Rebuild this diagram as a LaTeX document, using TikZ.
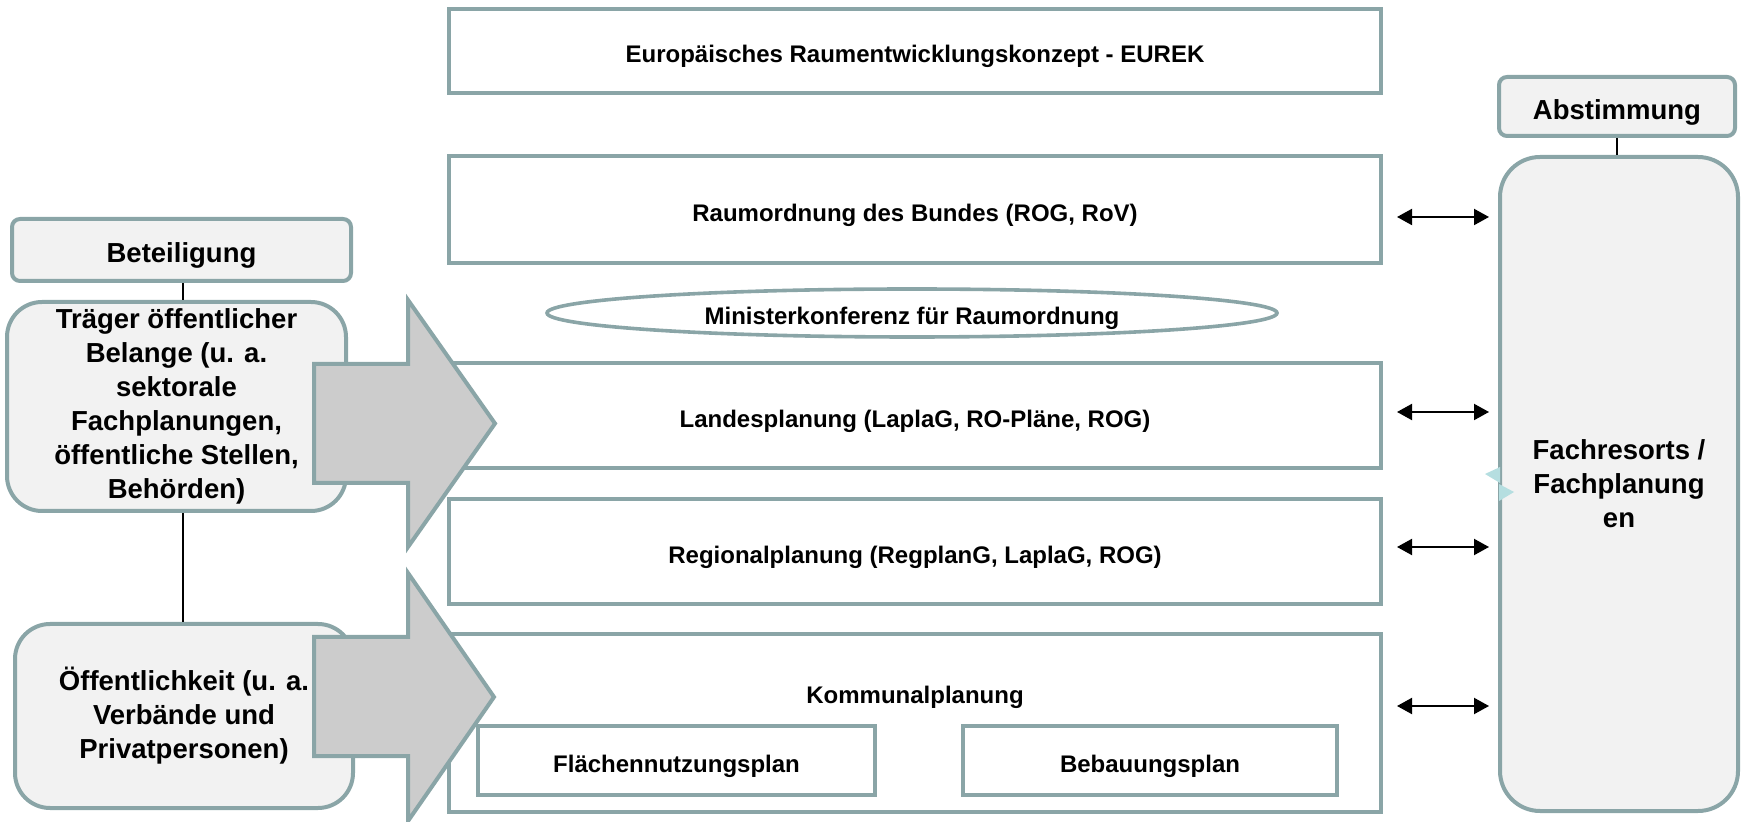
\documentclass[tikz,border=0pt]{standalone}
\usepackage{fontspec}
\setmainfont{Liberation Sans}
\usetikzlibrary{arrows.meta,shapes.geometric}
\definecolor{rahmen}{HTML}{8AA5A7}
\definecolor{hell}{HTML}{F2F2F2}
\definecolor{pfeilgrau}{HTML}{CCCCCC}
\definecolor{tuerkis}{HTML}{B5DEE0}

\begin{document}
\begin{tikzpicture}[x=0.5pt,y=-0.5pt,>={Triangle[length=7.5pt,width=8pt]},
  ebene/.style={draw=rahmen,line width=2pt,fill=white,inner sep=0pt,text height=12pt,text depth=0pt,font=\bfseries\fontsize{12}{14}\selectfont},
  akteur/.style={draw=rahmen,line width=2pt,fill=hell,rounded corners=17.5pt,inner sep=0pt,align=center,font=\bfseries\fontsize{13.75}{17}\selectfont},
  kopf/.style={akteur,rounded corners=4pt,text height=12.7pt,text depth=0pt},
  grosspfeil/.style={draw=rahmen,line width=2pt,fill=pfeilgrau},
  wechsel/.style={<->,line width=1pt,shorten >=4.5pt}]
\useasboundingbox (0,0) rectangle (1744,822);
% Planungsebenen
\node[ebene,minimum width=466pt,minimum height=42pt] (eurek) at (915,51) {Europäisches Raumentwicklungskonzept - EUREK};
\node[ebene,minimum width=466pt,minimum height=53.5pt] (bund) at (915,209.5) {Raumordnung des Bundes (ROG, RoV)};
\node[ebene,ellipse,line width=1.8pt,minimum width=365pt,minimum height=24pt] (mkro) at (912,313) {Ministerkonferenz für Raumordnung};
\node[ebene,minimum width=466pt,minimum height=52.5pt] (land) at (915,415.5) {Landesplanung (LaplaG, RO-Pläne, ROG)};
\node[ebene,minimum width=466pt,minimum height=52.5pt] (region) at (915,551.5) {Regionalplanung (RegplanG, LaplaG, ROG)};
\node[ebene,minimum width=466pt,minimum height=89pt] (kommune) at (915,723) {};
\node[font=\bfseries\fontsize{12}{14}\selectfont] (kommtext) at (915,697) {Kommunalplanung};
\node[ebene,minimum width=198.5pt,minimum height=34.5pt] (fnp) at (676.5,760.5) {Flächennutzungsplan};
\node[ebene,minimum width=187pt,minimum height=34.5pt] (bplan) at (1150,760.5) {Bebauungsplan};
% Beteiligung
\node[kopf,minimum width=169.5pt,minimum height=31pt] (beteil) at (181.5,250) {Beteiligung};
\node[akteur,minimum width=169.5pt,minimum height=104.5pt] (toeb) at (176.5,406.5) {Träger öffentlicher\\Belange (u. a.\\sektorale\\Fachplanungen,\\öffentliche Stellen,\\Behörden)};
\node[akteur,minimum width=169pt,minimum height=92pt] (oeff) at (184,716) {Öffentlichkeit (u. a.\\Verbände und\\Privatpersonen)};
\coordinate (lx) at (183,0);
\draw[line width=0.75pt] (lx |- beteil.south) -- (lx |- toeb.north);
\draw[line width=0.75pt] (lx |- toeb.south) -- (lx |- oeff.north);
\draw[grosspfeil] (314,364) -- (408,364) -- (408,300) -- (495,423.5) -- (408,547) -- (408,483) -- (314,483) -- cycle;
\draw[grosspfeil] (314,637) -- (408,637) -- (408,573) -- (494,697) -- (408,821) -- (408,756) -- (314,756) -- cycle;
% Abstimmung
\node[kopf,minimum width=118pt,minimum height=29.5pt] (abst) at (1617,106.5) {Abstimmung};
\node[akteur,rounded corners=20pt,minimum width=119pt,minimum height=327pt] (fach) at (1619,484) {Fachresorts /\\Fachplanung\\en};
\draw[line width=0.75pt] (abst.south) -- (abst.south |- fach.north);
\fill[tuerkis] (1485,474) -- (1500,467) -- (1500,483) -- cycle;
\fill[tuerkis] (1514,492) -- (1499,484) -- (1499,501) -- cycle;
\coordinate (w1) at (1397,217);
\coordinate (w2) at (1397,412);
\coordinate (w3) at (1397,547);
\coordinate (w4) at (1397,706);
\draw[wechsel] (w1) -- (w1 -| fach.west);
\draw[wechsel] (w2) -- (w2 -| fach.west);
\draw[wechsel] (w3) -- (w3 -| fach.west);
\draw[wechsel] (w4) -- (w4 -| fach.west);
\end{tikzpicture}
\end{document}
